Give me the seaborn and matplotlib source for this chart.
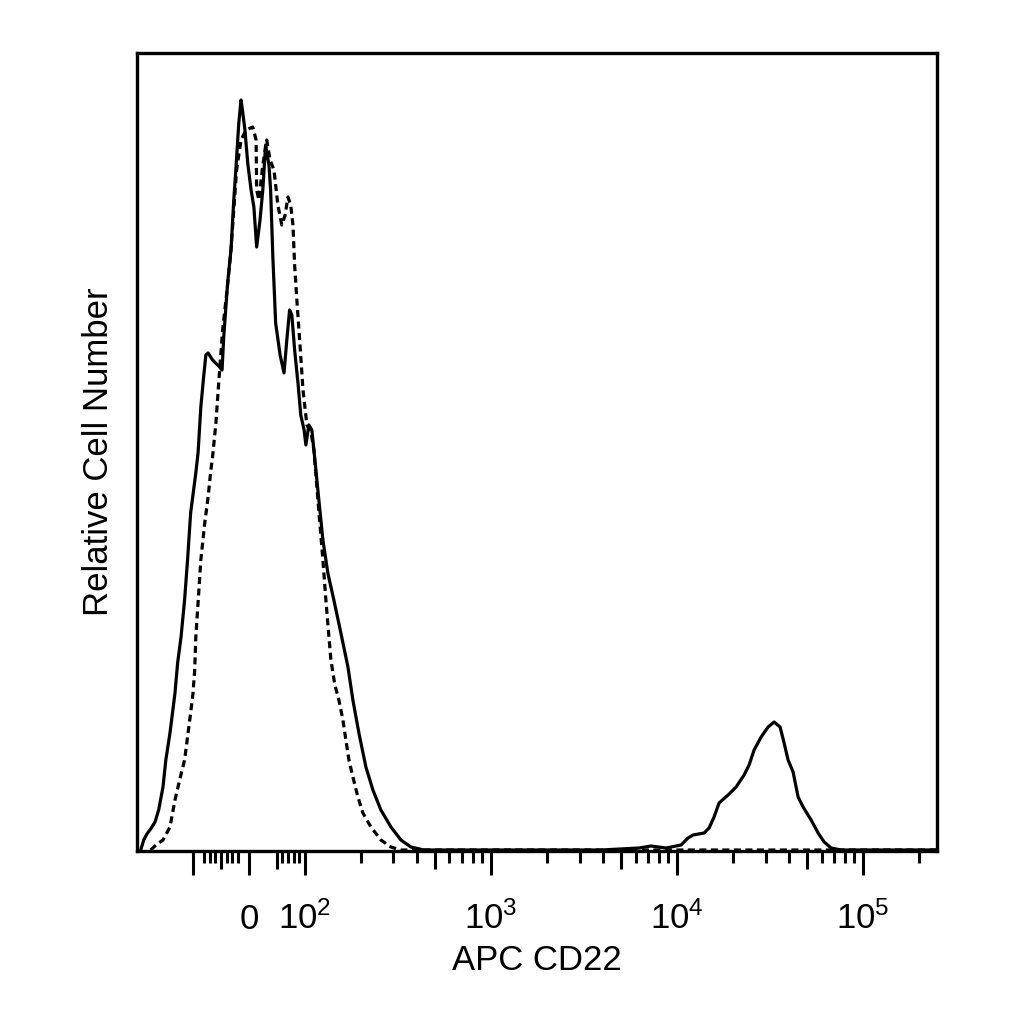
import numpy as np
import pandas as pd
import matplotlib
matplotlib.use("Agg")
import matplotlib.pyplot as plt
import seaborn as sns

# stained sample (solid line): APC intensity vs relative count
stain_x = [-191, -184, -177, -169, -160, -153, -145, -140, -133, -125, -121, -116, -111, -107, -103,
           -95, -91, -86, -81, -77, -73, -65, -54, -48, -45, -38, -32, -27, -23, -18, -14, -11, -7, -2,
           4, 9, 14, 20, 25, 30, 36, 39, 43, 48, 56, 63, 68, 73, 77, 82, 88, 93, 99,
           101.5, 105.3, 109.3, 113.5, 119.2, 125.3, 133.2, 143.5, 156.5, 170.8, 181.6, 195.6, 213.3,
           232.6, 256.8, 290.8, 329, 372, 437, 1134, 3913, 6263, 7265, 8749, 10535, 11488, 12224,
           14003, 14899, 15849, 16862, 18852, 20812, 22979, 24445, 26012, 28364, 30927, 33314, 35870,
           37700, 39610, 42140, 44830, 47700, 52670, 57430, 61860, 67450, 76350, 247500]
stain_y = [0.5, 5.5, 8.5, 11, 14.5, 20.5, 32, 45.5, 59, 79, 94, 107, 125.5, 145.5, 169,
           189, 199, 222, 237, 248, 249, 245.5, 242.5, 240.5, 257, 284, 300.5, 325.5, 342, 364, 375.5, 369.5, 360.5, 344,
           330.5, 322, 302, 315.5, 330.5, 353, 343, 330.5, 297, 264, 248, 239, 255.5, 270.5, 268, 250.5, 234, 218, 210.5,
           203, 213, 210.5, 195.5, 175.5, 155.5, 139, 125.5, 109, 92, 75.5, 59, 42,
           30.5, 20.5, 12, 5.5, 2, 0.5, 0.5, 0.5, 1.5, 2.5, 1.5, 3, 6.5, 8,
           9, 11.5, 17, 24, 28, 32, 38, 43, 50.5, 57, 62, 64.5, 62,
           54, 45.5, 39.5, 27, 22, 15.5, 9, 4.5, 1.5, 0.5, 0.5]

# isotype control (dashed line)
ctrl_x = [-169, -158, -145, -133, -125, -118, -111, -107, -103, -100, -97, -95, -91, -86, -79, -73, -68,
          -65, -59, -54, -47, -39, -32, -27, -22, -14, -5, 7, 13, 14, 18, 25, 32, 38, 45, 52, 59, 65,
          70, 75, 79, 82, 86, 91, 97, 102.8, 108, 112.1, 117.8, 125.3, 130, 138.3, 145.3, 152.7,
          160.5, 166.5, 172.9, 181.6, 193.2, 205.5, 227, 256.8, 290.8, 329, 247500]
ctrl_y = [0.5, 3, 5.5, 12, 25.5, 35.5, 45.5, 57, 69, 79, 90.5, 107, 124, 145.5, 164, 177, 190.5,
          197, 214, 234, 260.5, 280.5, 300.5, 320.5, 340.5, 355.5, 360.5, 362, 355.5, 330.5, 325.5, 343, 355.5, 345.5, 340.5, 323, 313, 318,
          327, 323, 313, 293, 275.5, 255.5, 230.5, 213, 209.5, 200.5, 175.5, 145.5, 125.5, 95.5, 83, 75.5,
          65.5, 55.5, 45.5, 37, 27, 19, 12, 5.5, 2, 0.5, 0.5]

major_ticks = [-100, 0, 100, 1000, 10000, 100000]
major_labels = ["", "0", "$10^2$", "$10^3$", "$10^4$", "$10^5$"]
mid_ticks = [-50, 50, 500, 5000, 50000]
minor_ticks = ([-80, -70, -60, -40, -30, -20, 60, 70, 80, 90]
               + [200, 300, 400, 600, 700, 800, 900]
               + [2000, 3000, 4000, 6000, 7000, 8000, 9000]
               + [20000, 30000, 40000, 60000, 70000, 80000, 90000, 200000])

stain = pd.DataFrame({"APC CD22": stain_x, "count": stain_y})
ctrl = pd.DataFrame({"APC CD22": ctrl_x, "count": ctrl_y})

sns.set_style("white")
plt.rcParams["font.family"] = ["Liberation Sans", "DejaVu Sans"]
plt.rcParams["mathtext.fontset"] = "custom"
plt.rcParams["mathtext.rm"] = "Liberation Sans"
plt.rcParams["mathtext.it"] = "Liberation Sans"
plt.rcParams["text.color"] = "black"
plt.rcParams["axes.labelcolor"] = "black"
plt.rcParams["xtick.color"] = "black"

fig = plt.figure(figsize=(10.24, 10.24), dpi=100)
ax = fig.add_axes([137 / 1024, 1 - 851 / 1024, 800 / 1024, 798 / 1024])

sns.lineplot(data=ctrl, x="APC CD22", y="count", color="black", lw=2.3,
             linestyle=(0, (2.2, 1.4)), sort=False, ax=ax)
sns.lineplot(data=stain, x="APC CD22", y="count", color="black", lw=2.3,
             sort=False, ax=ax)

xlim = (-200, 250000)
ax.set_xscale("symlog", linthresh=100, linscale=0.27)
ax.set_xlim(*xlim)
ax.set_ylim(0, 399)
ax.set_yticks([])

ax.set_xticks(major_ticks)
ax.set_xticklabels(major_labels)
ax.set_xticks(minor_ticks, minor=True)
ax.tick_params(axis="x", which="major", direction="out", length=17, width=2.2,
               color="black", labelcolor="black", labelsize=25, pad=39, bottom=True)
ax.tick_params(axis="x", which="minor", direction="out", length=8.5, width=2.2,
               color="black", bottom=True)
for lab in ax.get_xticklabels():
    lab.set_verticalalignment("baseline")

# medium-length ticks on a twin axis sharing the same scale
ax2 = ax.twiny()
ax2.set_xscale("symlog", linthresh=100, linscale=0.27)
ax2.set_xlim(*xlim)
ax2.xaxis.tick_bottom()
ax2.set_xticks(mid_ticks)
ax2.set_xticklabels([])
ax2.tick_params(axis="x", which="major", direction="out", length=13, width=2.2,
                color="black", bottom=True, top=False)
ax2.tick_params(axis="x", which="minor", bottom=False, top=False)
for s in ax2.spines.values():
    s.set_visible(False)

for s in ax.spines.values():
    s.set_visible(True)
    s.set_linewidth(2.4)
    s.set_color("black")

ax.set_xlabel("APC CD22", fontsize=25, labelpad=6, color="black")
ax.set_ylabel("Relative Cell Number", fontsize=25, labelpad=16, color="black")

fig.savefig("out.png", dpi=100, facecolor="white")
